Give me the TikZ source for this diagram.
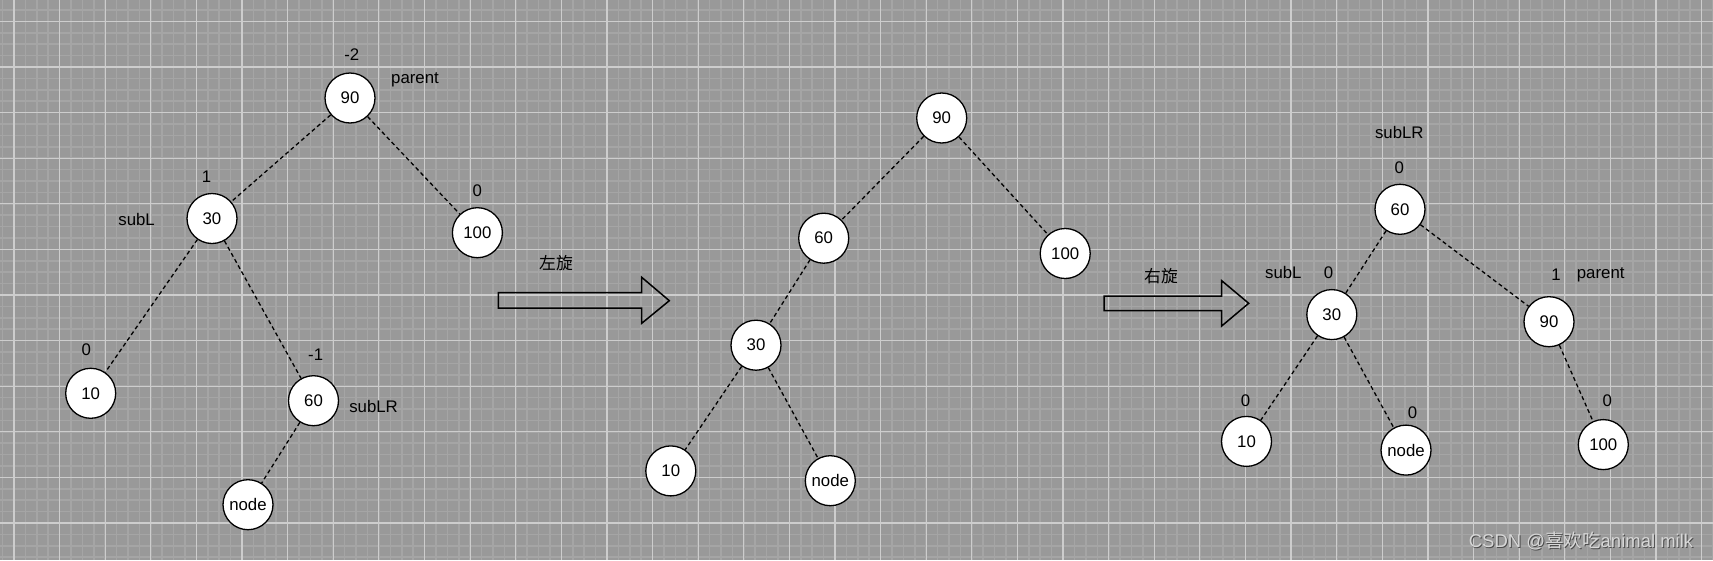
\documentclass[tikz,border=0pt]{standalone}
\usepackage{fontspec}
\setmainfont{Liberation Sans}
\newfontfamily\cjk{Noto Sans CJK SC}
\usepackage{tikz}

\definecolor{bggray}{RGB}{153,153,153}
\definecolor{minorgray}{RGB}{165,165,165}
\definecolor{majorgray}{RGB}{205,205,205}
\definecolor{markgray}{RGB}{215,215,215}

\begin{document}
\begin{tikzpicture}[x=1pt, y=-1pt,
    font=\fontsize{16.8}{20}\selectfont,
    tnode/.style={circle, draw, fill=white, line width=1.3pt, minimum size=50pt, inner sep=0pt},
    lbl/.style={inner sep=0pt},
    link/.style={dash pattern=on 4pt off 3pt, line width=1.3pt},
    bigarrow/.style={line width=1.5pt, line join=miter}]
    \useasboundingbox (0,0) rectangle (1713,560);

    % Background grid
    \fill[bggray] (0,0) rectangle (1713,560);
    \foreach \i in {0,...,150}
        \draw[minorgray, line width=1.6pt] ({2.6+11.403*\i},0) -- ++(0,560);
    \foreach \i in {0,...,49}
        \draw[minorgray, line width=1.6pt] (0,{9.9+11.403*\i}) -- ++(1713,0);
    \foreach \i in {0,...,37}
        \draw[majorgray, line width=1.2pt] ({14+45.61*\i},0) -- ++(0,560);
    \foreach \i in {0,...,12}
        \draw[majorgray, line width=1.2pt] (0,{21.3+45.61*\i}) -- ++(1713,0);

    % First tree
    \node[tnode] (a90) at (350,98) {90};
    \node[tnode] (a30) at (212,218.5) {30};
    \node[tnode] (a100) at (477.4,232.7) {100};
    \node[tnode] (a10) at (90.7,393.3) {10};
    \node[tnode] (a60) at (313.5,400.7) {60};
    \node[tnode] (anode) at (248,504.7) {node};
    \node[lbl] (a90bf) at (351.8,54.6) {-2};
    \node[lbl] (a90nm) at (415,79.8) {parent};
    \node[lbl] (a30bf) at (206.5,177) {1};
    \node[lbl] (a30nm) at (136.6,219.6) {subL};
    \node[lbl] (a100bf) at (477.4,191.2) {0};
    \node[lbl] (a10bf) at (86.3,349.6) {0};
    \node[lbl] (a60bf) at (315.7,355) {-1};
    \node[lbl] (a60nm) at (373.6,406.4) {subLR};
    \draw[link] (a90) -- (a30);
    \draw[link] (a90) -- (a100);
    \draw[link] (a30) -- (a10);
    \draw[link] (a30) -- (a60);
    \draw[link] (a60) -- (anode);

    % Left rotation
    \draw[bigarrow] (498.3,292.7) -- (641.7,292.7) -- (641.7,277.3) -- (669.3,300.7)
        -- (641.7,323.3) -- (641.7,308) -- (498.3,308) -- cycle;
    \node[lbl, font=\cjk\fontsize{16.8}{20}\selectfont] (rotl) at (556,262.7) {左旋};

    % Second tree
    \node[tnode] (b90) at (941.7,118) {90};
    \node[tnode] (b60) at (823.7,238.2) {60};
    \node[tnode] (b100) at (1065.2,253.5) {100};
    \node[tnode] (b30) at (756,345.2) {30};
    \node[tnode] (b10) at (670.8,470.9) {10};
    \node[tnode] (bnode) at (830.3,480.7) {node};
    \draw[link] (b90) -- (b60);
    \draw[link] (b90) -- (b100);
    \draw[link] (b60) -- (b30);
    \draw[link] (b30) -- (b10);
    \draw[link] (b30) -- (bnode);

    % Right rotation
    \draw[bigarrow] (1104,296) -- (1221.7,296) -- (1221.7,280.7) -- (1248.7,303.3)
        -- (1221.7,326) -- (1221.7,310.7) -- (1104,310.7) -- cycle;
    \node[lbl, font=\cjk\fontsize{16.8}{20}\selectfont] (rotr) at (1161,276) {右旋};

    % Third tree
    \node[tnode] (c60) at (1400,209.3) {60};
    \node[tnode] (c30) at (1331.8,314.6) {30};
    \node[tnode] (c90) at (1549,321.7) {90};
    \node[tnode] (c10) at (1246.5,441.4) {10};
    \node[tnode] (cnode) at (1406,450.1) {node};
    \node[tnode] (c100) at (1603.3,444.6) {100};
    \node[lbl] (c60nm) at (1399.3,132) {subLR};
    \node[lbl] (c60bf) at (1399.3,167.3) {0};
    \node[lbl] (c30nm) at (1283.3,272.7) {subL};
    \node[lbl] (c30bf) at (1328.5,273.1) {0};
    \node[lbl] (c90bf) at (1556,274.3) {1};
    \node[lbl] (c90nm) at (1600.7,275) {parent};
    \node[lbl] (c10bf) at (1245.5,401) {0};
    \node[lbl] (cnodebf) at (1412.6,413) {0};
    \node[lbl] (c100bf) at (1607.3,401) {0};
    \draw[link] (c60) -- (c30);
    \draw[link] (c60) -- (c90);
    \draw[link] (c30) -- (c10);
    \draw[link] (c30) -- (cnode);
    \draw[link] (c90) -- (c100);

    % Watermark
    \node[lbl, text=black!70, font=\fontsize{18.5}{22}\selectfont] at (1582,541.7) {CSDN @{\cjk 喜欢吃}animal milk};
    \node[lbl, text=markgray, font=\fontsize{18.5}{22}\selectfont] (mark) at (1581,540.7) {CSDN @{\cjk 喜欢吃}animal milk};
\end{tikzpicture}
\end{document}
